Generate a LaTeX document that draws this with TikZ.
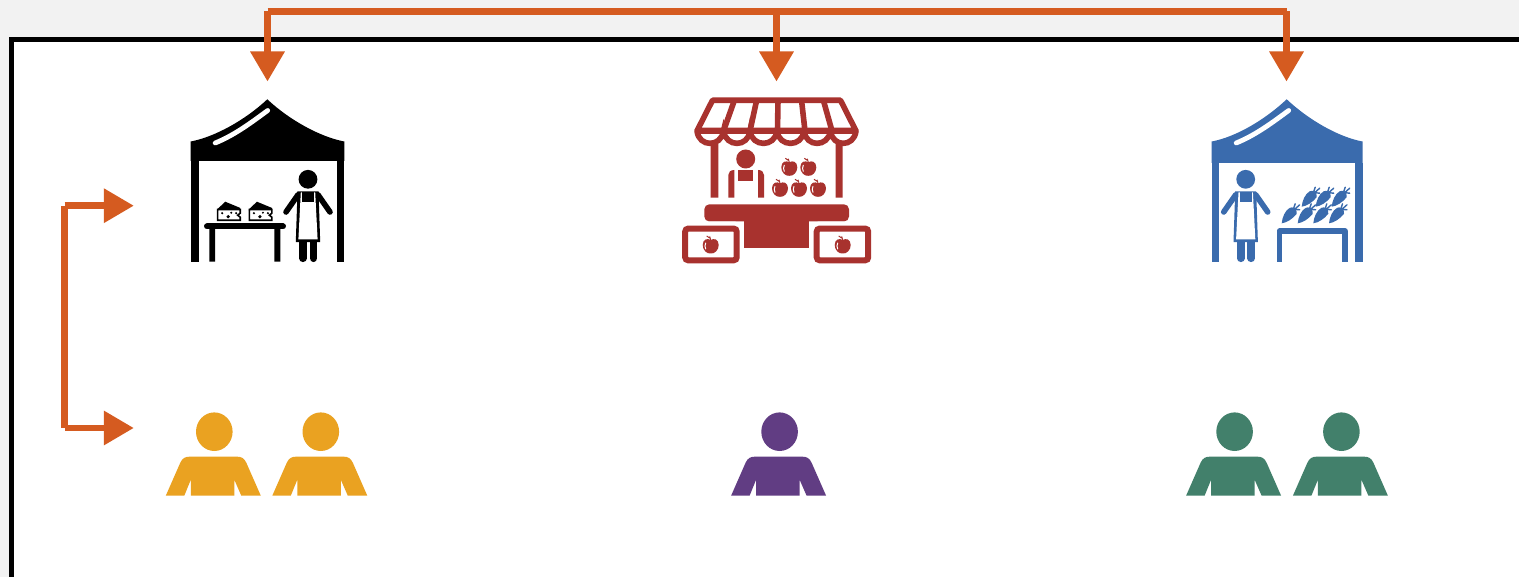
\documentclass[tikz,border=0pt]{standalone}
\usetikzlibrary{arrows.meta}
\definecolor{pageGray}{HTML}{F2F2F2}
\definecolor{linkOrange}{HTML}{D55B20}
\definecolor{goldBuyer}{HTML}{EAA221}
\definecolor{purpleBuyer}{HTML}{613D83}
\definecolor{greenBuyer}{HTML}{42806B}
\definecolor{tentBlue}{HTML}{3A6BAD}
\definecolor{stallRed}{HTML}{A8322E}
\tikzset{
  link/.style={draw=linkOrange,line width=6.5pt,miter limit=10},
  linkarrow/.style={link,-{Triangle[length=30pt,width=33pt,fill=linkOrange]}},
  pics/buyer/.style={code={
    \fill (1,0) ellipse [x radius=18.3,y radius=19.3];
    \fill (-47.5,64) -- (-33,31) .. controls (-31,26.5) and (-28,25) .. (-24,25)
      -- (24,25) .. controls (28,25) and (31,26.5) .. (33,31) -- (47.5,64)
      -- (28,64) -- (21,48) -- (21,64) -- (-22.5,64) -- (-22.5,48) -- (-29,64) -- cycle;
  }},
  pics/vendor/.style={code={
    \fill (0,0) circle [radius=9.4];
    \draw[line width=5.6pt,line cap=round] (-10,15.5) -- (-22,32.7) (10,15.5) -- (22,32.7);
    \draw[line width=7.6pt,line cap=round] (-5,62) -- (-5,79) (5.5,62) -- (5.5,79);
    \fill (-10.5,12) -- (-12.2,62.8) -- (12.2,62.8) -- (10.5,12) -- cycle;
    \fill[white] (-7.2,13) -- (-9.6,60) -- (9.6,60) -- (7.2,13) -- cycle;
    \fill (-6,12.4) rectangle (6,23);
  }},
  pics/cheese/.style={code={
    \fill (0.4,7.8) -- (8.5,0) -- (23.5,6.2) -- (23.5,9) -- (0.4,9) -- cycle;
    \draw[fill=white,line width=1.6pt] (0.9,7.8) -- (23.5,7.8) -- (23.5,11.5) -- (21,13.5) -- (23.5,15.5)
      -- (23.5,18.6) -- (0.9,18.6) -- cycle;
    \fill (5.5,11.5) circle [radius=1.2] (11.5,15) circle [radius=1.8]
      (14.5,11) circle [radius=1.1] (19.5,11.5) circle [radius=1.2];
  }},
  pics/carrot/.style={code={
    \fill (0,0) .. controls (0.5,-6) and (3.5,-13) .. (8,-15.4)
      .. controls (10.5,-17) and (16,-15) .. (15,-9.5)
      .. controls (11,-4.5) and (5,-0.5) .. (0,0) -- cycle;
    \draw[line width=1.4pt,line cap=round] (13,-14) -- (18,-13.5) (12,-15) -- (13.5,-19.5) (13.5,-14.5) -- (18,-18.5);
  }},
  pics/apple/.style={code={
    \fill (0,-6) .. controls (-3,-8) and (-8,-7) .. (-8,-1) .. controls (-8,4) and (-4,8) .. (0,7.5)
      .. controls (4,8) and (8,4) .. (8,-1) .. controls (8,-7) and (3,-8) .. (0,-6) -- cycle;
    \draw[line width=1pt] (0,-6) -- (-1,-9.5) (-1,-8) -- (-4,-10);
    \draw[white,line width=1pt,line cap=round] (-5,-3) .. controls (-6,-1) and (-6,1) .. (-5,3);
  }},
}
\newcommand{\tentshape}[7]{% apex x, left, right, unused, roof bottom, post width left, post width right
  \fill (#1,99.3) .. controls ({#1-22},120) and ({#2+24},137) .. (#2,141.5) -- (#2,#5) -- (#3,#5) -- (#3,141.5)
     .. controls ({#3-24},137) and ({#1+22},120) .. (#1,99.3) -- cycle;
  \fill (#2,#5) rectangle ({#2+#6},261.7);
  \fill ({#3-#7},#5) rectangle (#3,261.7);
  \draw[white,line width=4.8pt,line cap=round] ({#2+24.5},143) .. controls ({#2+44},135) and ({#2+60},123) .. ({#2+77},110.5);
}
\begin{document}
\begin{tikzpicture}[x=1pt,y=-1pt]
\useasboundingbox (0,0) rectangle (1519,577);
\fill[pageGray] (0,0) rectangle (1519,577);
\fill[white] (11.3,39.7) rectangle (1519,577);
\draw[line width=4.6pt] (1519,39.7) -- (11.3,39.7) -- (11.3,577);

% connector ends
\coordinate (busA) at (267.5,11.3);
\coordinate (busB) at (776.5,11.3);
\coordinate (busC) at (1286.5,11.3);
\coordinate (stallIn) at (267.5,81.5);
\coordinate (marketIn) at (776.5,81.5);
\coordinate (vegIn) at (1286.5,81.5);
\coordinate (railTop) at (64.7,205.7);
\coordinate (railBottom) at (64.7,428);
\coordinate (stallSide) at (133.8,205.7);
\coordinate (buyerSide) at (133.8,428);

% black cheese tent
\begin{scope}[color=black]
  \tentshape{267.3}{190.7}{344.3}{}{161}{8.3}{7.6}
  \pic at (308,179.3) {vendor};
  \pic at (216.7,201.7) {cheese};
  \pic at (248.4,201.7) {cheese};
  \draw[line width=6pt,line cap=round] (207,226.5) -- (283,226.5);
  \fill (209.3,226.5) rectangle (215.2,261.7) (274.3,226.5) rectangle (280.3,261.7);
\end{scope}

% red market stall
\begin{scope}[color=stallRed]
  \draw[line width=5.6pt,line join=round] (712.5,100.3) -- (840.5,100.3) -- (855.8,130.5) -- (697.2,130.5) -- cycle;
  \draw[line width=5.6pt] (734.5,100) -- (723.5,131) (756.7,100) -- (750,131) (778,100) -- (777.5,131)
     (801.5,100) -- (805,131) (823.3,100) -- (832,131);
  \fill (697,128.5) rectangle (856,134.5);
  \draw[line width=5.6pt,line cap=round] (697,131) .. controls (699,147.5) and (721,147.5) .. (723.5,131)
     .. controls (726,147.5) and (748,147.5) .. (750,131)
     .. controls (752,147.5) and (775,147.5) .. (777,131)
     .. controls (779,147.5) and (802,147.5) .. (804,131)
     .. controls (806,147.5) and (828,147.5) .. (830.5,131)
     .. controls (832.5,147.5) and (854,147.5) .. (856,131);
  \fill (710.7,144) rectangle (718.3,197.7) (835.7,144) rectangle (842.7,197.7);
  \fill (745.7,159) circle [radius=9.5];
  \fill (728.3,197.7) -- (728.3,175) .. controls (728.3,172) and (730.5,170) .. (734.3,170) -- (734.3,197.7) -- cycle;
  \fill (764,197.7) -- (764,175) .. controls (764,172) and (761.8,170) .. (758,170) -- (758,197.7) -- cycle;
  \fill (738.3,170) rectangle (753,181);
  \pic at (789.3,168.3) {apple};
  \pic at (808.3,168.3) {apple};
  \pic at (780,189.3) {apple};
  \pic at (799,189.3) {apple};
  \pic at (818,189.3) {apple};
  \fill[rounded corners=5pt] (704.3,221.5) -- (704.3,204.3) -- (849,204.3) -- (849,221.5) -- cycle;
  \fill (744.3,220) rectangle (809,248.3);
  \draw[white,line width=14pt,rounded corners=3pt] (685.2,228.6) rectangle (736.7,260.3);
  \draw[white,line width=14pt,rounded corners=3pt] (816.7,228.6) rectangle (868.2,260.3);
  \draw[fill=white,line width=6pt,rounded corners=3pt] (685.2,228.6) rectangle (736.7,260.3);
  \draw[fill=white,line width=6pt,rounded corners=3pt] (816.7,228.6) rectangle (868.2,260.3);
  \pic at (710.7,246) {apple};
  \pic at (842.7,246) {apple};
\end{scope}

% blue vegetable tent
\begin{scope}[color=tentBlue]
  \tentshape{1286.7}{1211.7}{1362.5}{}{163}{7.6}{7.6}
  \pic at (1245.7,179.3) {vendor};
  \foreach \cx in {1301.7,1315.7,1331.7} {\pic at (\cx,206.7) {carrot};}
  \foreach \cx in {1281.7,1297.7,1313.3,1329} {\pic at (\cx,223.3) {carrot};}
  \draw[line width=5.4pt,line join=round] (1279.4,261.7) -- (1279.4,231) -- (1344.8,231) -- (1344.8,261.7);
\end{scope}

% buyers
\pic[color=goldBuyer] (buyerA) at (213.3,431.7) {buyer};
\pic[color=goldBuyer] (buyerB) at (319.8,431.7) {buyer};
\pic[color=purpleBuyer] (buyerC) at (778.6,431.7) {buyer};
\pic[color=greenBuyer] (buyerD) at (1233.6,431.7) {buyer};
\pic[color=greenBuyer] (buyerE) at (1340.4,431.7) {buyer};

% connectors
\draw[link] (busA) -- (busC);
\draw[linkarrow] (busA) -- (stallIn);
\draw[linkarrow] (busB) -- (marketIn);
\draw[linkarrow] (busC) -- (vegIn);
\draw[link] (railTop) -- (railBottom);
\draw[linkarrow] (railTop) -- (stallSide);
\draw[linkarrow] (railBottom) -- (buyerSide);
\end{tikzpicture}
\end{document}
